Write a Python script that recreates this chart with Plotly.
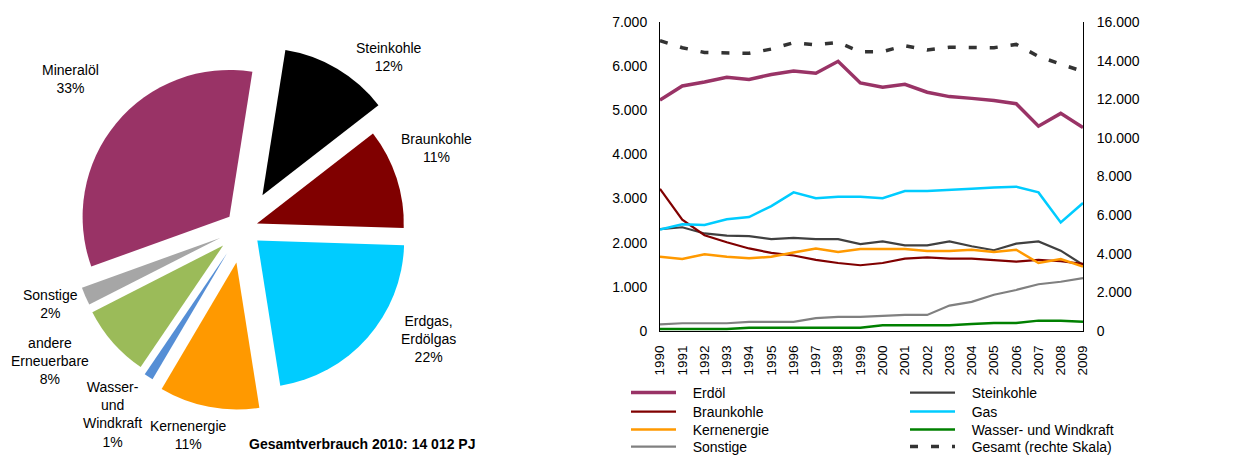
import plotly.graph_objects as go

# ---------------- Pie data ----------------
pie_labels = ["Steinkohle", "Braunkohle", "Erdgas,<br>Erdölgas", "Kernenergie",
              "Wasser-<br>und<br>Windkraft", "andere<br>Erneuerbare", "Sonstige", "Mineralöl"]
pie_values = [12, 11, 22, 11, 1, 8, 2, 33]
pie_colors = ["#000000", "#800000", "#00CCFF", "#FF9900", "#558ED5", "#9BBB59", "#A6A6A6", "#993366"]
pie_pull = [0.26, 0.10, 0.13, 0.24, 0.20, 0.18, 0.17, 0.12]
pie_title = "Gesamtverbrauch 2010: 14 012 PJ"

# ---------------- Line data ----------------
years = [str(y) for y in range(1990, 2010)]
erdoel = [5230, 5550, 5640, 5750, 5700, 5810, 5890, 5840, 6110, 5620,
          5520, 5590, 5410, 5310, 5270, 5220, 5150, 4640, 4930, 4610]
steinkohle = [2310, 2350, 2210, 2160, 2150, 2080, 2110, 2080, 2080, 1970,
              2030, 1940, 1940, 2030, 1920, 1830, 1980, 2030, 1820, 1500]
braunkohle = [3220, 2520, 2170, 2010, 1870, 1770, 1710, 1610, 1540, 1490,
              1540, 1640, 1670, 1640, 1640, 1600, 1570, 1610, 1580, 1520]
gas = [2300, 2420, 2400, 2530, 2580, 2830, 3140, 3010, 3040, 3040,
       3010, 3170, 3170, 3190, 3220, 3250, 3270, 3140, 2460, 2900]
kernenergie = [1680, 1630, 1740, 1680, 1650, 1680, 1780, 1870, 1790, 1860,
               1860, 1860, 1810, 1810, 1840, 1790, 1840, 1540, 1630, 1460]
wasser_wind = [45, 45, 45, 45, 76, 76, 76, 76, 76, 76,
               130, 130, 130, 130, 160, 180, 180, 235, 235, 212]
sonstige = [150, 175, 175, 175, 205, 205, 205, 290, 320, 320,
            340, 365, 365, 576, 660, 820, 930, 1060, 1115, 1200]
gesamt = [15030, 14670, 14420, 14390, 14380, 14600, 14930, 14820, 14940, 14460,
          14470, 14770, 14550, 14690, 14700, 14670, 14840, 14220, 13820, 13440]

left_ticks = list(range(0, 7001, 1000))
right_ticks = list(range(0, 16001, 2000))

FONT = "Liberation Sans, Arial, sans-serif"
W, H = 1235, 456
PAD = "\u00a0\u00a0\u00a0"  # small gap between legend line and legend text

fig = go.Figure()

# Pie
fig.add_trace(go.Pie(
    labels=pie_labels, values=pie_values, sort=False, direction="clockwise",
    rotation=9, pull=pie_pull,
    marker=dict(colors=pie_colors, line=dict(width=0)),
    textinfo="none", hoverinfo="label+percent", showlegend=False,
    domain=dict(x=[58 / W, 428 / W], y=[0.07, 0.93]),
))

# (name, values, colour, width, dash, y-axis, legend id)
series = [
    ("Erdöl", erdoel, "#993366", 3.5, "solid", "y", "legend"),
    ("Steinkohle", steinkohle, "#404040", 2.2, "solid", "y", "legend2"),
    ("Braunkohle", braunkohle, "#800000", 2.2, "solid", "y", "legend3"),
    ("Gas", gas, "#00CCFF", 2.5, "solid", "y", "legend4"),
    ("Kernenergie", kernenergie, "#FF9900", 2.5, "solid", "y", "legend5"),
    ("Wasser- und Windkraft", wasser_wind, "#008000", 2.5, "solid", "y", "legend6"),
    ("Sonstige", sonstige, "#808080", 2.2, "solid", "y", "legend7"),
    ("Gesamt (rechte Skala)", gesamt, "#333333", 3.5, "8px,13px", "y2", "legend8"),
]
for name, vals, col, w, dash, yax, leg in series:
    fig.add_trace(go.Scatter(
        x=years, y=vals, name=PAD + name, mode="lines",
        line=dict(color=col, width=w, dash=dash),
        xaxis="x", yaxis=yax, legend=leg,
    ))

# Legend placement: two columns, four rows
legend_cols = [626, 905]
legend_rows = [393, 412, 430, 447]
legend_layout = {}
for i, s in enumerate(series):
    leg = s[6]
    lx = legend_cols[i % 2]
    ly = legend_rows[i // 2]
    legend_layout[leg] = dict(
        x=lx / W, y=1 - ly / H, xanchor="left", yanchor="middle",
        orientation="v", font=dict(family=FONT, size=14), itemwidth=45,
        bgcolor="rgba(0,0,0,0)",
    )

# Pie labels as annotations (positions separate from data)
label_pos = [(389, 57), (436, 148), (428, 339), (188, 435),
             (112, 414), (50, 361), (50, 304), (70, 79)]
annotations = []
for lab, val, (px, py) in zip(pie_labels, pie_values, label_pos):
    annotations.append(dict(
        x=px / W, y=1 - py / H, xref="paper", yref="paper",
        text=f"{lab}<br>{val}%", showarrow=False, align="center",
        font=dict(family=FONT, size=14, color="#000000"),
        xanchor="center", yanchor="middle",
    ))
annotations.append(dict(
    x=362 / W, y=1 - 444 / H, xref="paper", yref="paper",
    text=f"<b>{pie_title}</b>", showarrow=False,
    font=dict(family=FONT, size=14, color="#000000"),
    xanchor="center", yanchor="middle",
))

x0, x1 = 660 / W, 1083 / W
y0, y1 = 1 - 331 / H, 1 - 22 / H

fig.update_layout(
    width=W, height=H,
    margin=dict(l=0, r=0, t=0, b=0, autoexpand=False),
    paper_bgcolor="white", plot_bgcolor="white",
    separators=",.",
    font=dict(family=FONT, size=14, color="#000000"),
    xaxis=dict(domain=[x0, x1], type="category", tickangle=-90,
               showline=True, linecolor="#000000", linewidth=1,
               showgrid=False, ticks="", ticklabelstandoff=8,
               tickfont=dict(size=13.5), anchor="y", fixedrange=True),
    yaxis=dict(domain=[y0, y1], range=[0, 7000], tickvals=left_ticks,
               tickformat=",.0f", showline=True, linecolor="#000000",
               linewidth=1, showgrid=False, zeroline=False, ticks="",
               ticklabelstandoff=9, anchor="x", fixedrange=True),
    yaxis2=dict(domain=[y0, y1], range=[0, 16000], tickvals=right_ticks,
                tickformat=",.0f", overlaying="y", side="right",
                showline=True, linecolor="#000000", linewidth=1,
                showgrid=False, zeroline=False, ticks="",
                ticklabelstandoff=10, anchor="x", fixedrange=True),
    annotations=annotations,
    **legend_layout,
)

fig.write_html(
    "out.html",
    config={"displayModeBar": False},
    post_script="document.body.style.margin='0';document.body.style.overflow='hidden';",
)
